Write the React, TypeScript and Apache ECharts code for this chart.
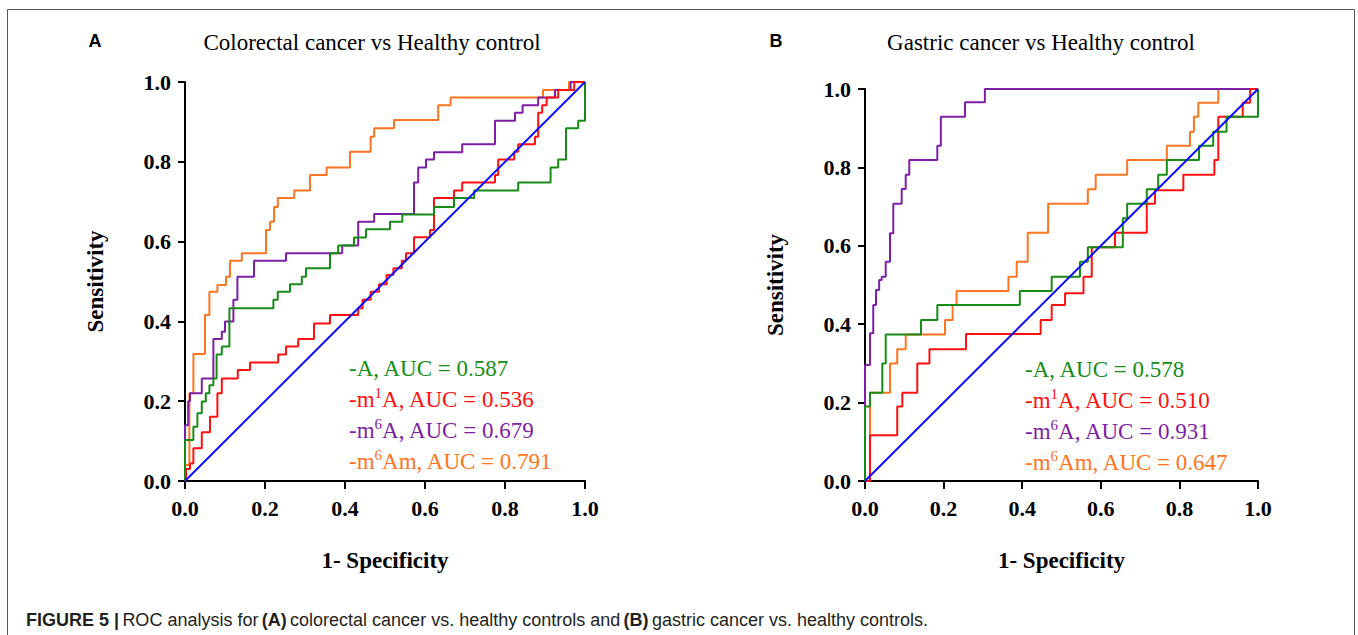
import React, { useEffect, useRef } from "react";
import * as echarts from "echarts";

// ROC operating points [1 - specificity, sensitivity]; drawn as step lines
const crcA: number[][] = [[0,0],[0,0.103],[0.021,0.136],[0.031,0.17],[0.042,0.199],[0.052,0.22],[0.061,0.24],[0.071,0.257],[0.079,0.317],[0.092,0.337],[0.111,0.433],[0.221,0.454],[0.232,0.474],[0.2625,0.493],[0.292,0.512],[0.3025,0.533],[0.3625,0.571],[0.383,0.59],[0.4225,0.61],[0.4525,0.631],[0.5125,0.65],[0.5433,0.668],[0.6225,0.687],[0.6725,0.709],[0.723,0.728],[0.833,0.748],[0.914,0.786],[0.933,0.806],[0.9525,0.884],[0.983,0.903],[1,1]];
const crcM1A: number[][] = [[0,0],[0.0025,0.03],[0.0125,0.044],[0.021,0.082],[0.042,0.122],[0.0625,0.161],[0.081,0.22],[0.092,0.257],[0.132,0.278],[0.1625,0.297],[0.233,0.317],[0.2525,0.337],[0.283,0.356],[0.3225,0.395],[0.3625,0.416],[0.433,0.433],[0.444,0.454],[0.464,0.474],[0.485,0.493],[0.504,0.516],[0.521,0.533],[0.542,0.552],[0.5525,0.571],[0.5725,0.611],[0.6125,0.629],[0.6225,0.709],[0.6725,0.728],[0.693,0.748],[0.775,0.767],[0.783,0.806],[0.823,0.825],[0.833,0.844],[0.875,0.863],[0.883,0.923],[0.893,0.942],[0.904,0.961],[0.933,0.98],[0.973,1],[1,1]];
const crcM6A: number[][] = [[0,0],[0,0.14],[0.008,0.2],[0.0125,0.22],[0.042,0.257],[0.071,0.356],[0.092,0.374],[0.1,0.4],[0.121,0.454],[0.131,0.512],[0.1725,0.552],[0.2525,0.571],[0.393,0.59],[0.433,0.65],[0.473,0.669],[0.5725,0.748],[0.583,0.786],[0.6025,0.806],[0.6225,0.824],[0.693,0.844],[0.775,0.903],[0.825,0.923],[0.844,0.942],[0.883,0.961],[0.925,0.98],[0.964,1],[1,1]];
const crcM6Am: number[][] = [[0,0],[0,0.04],[0.011,0.22],[0.021,0.318],[0.05,0.416],[0.061,0.474],[0.081,0.491],[0.1025,0.512],[0.1125,0.552],[0.142,0.571],[0.2025,0.629],[0.2125,0.65],[0.2225,0.687],[0.232,0.709],[0.273,0.728],[0.3125,0.767],[0.354,0.786],[0.4125,0.825],[0.464,0.863],[0.473,0.884],[0.5225,0.905],[0.633,0.942],[0.664,0.961],[0.895,0.98],[0.96,1],[1,1]];

const gcA: number[][] = [[0,0],[0,0.19],[0.0127,0.225],[0.044,0.3],[0.0527,0.374],[0.1425,0.411],[0.184,0.449],[0.394,0.485],[0.475,0.521],[0.547,0.559],[0.567,0.596],[0.656,0.67],[0.667,0.707],[0.717,0.744],[0.746,0.781],[0.768,0.819],[0.85,0.855],[0.886,0.891],[0.92,0.929],[1,1]];
const gcM1A: number[][] = [[0,0],[0.0127,0.117],[0.082,0.19],[0.095,0.225],[0.133,0.3],[0.164,0.336],[0.257,0.375],[0.447,0.411],[0.475,0.449],[0.509,0.479],[0.556,0.521],[0.577,0.596],[0.636,0.633],[0.717,0.707],[0.738,0.742],[0.81,0.781],[0.889,0.819],[0.899,0.929],[0.961,0.965],[0.98,1],[1,1]];
const gcM6A: number[][] = [[0,0],[0,0.296],[0.0127,0.377],[0.021,0.449],[0.028,0.487],[0.036,0.513],[0.0425,0.521],[0.0527,0.559],[0.0636,0.632],[0.072,0.707],[0.0934,0.745],[0.1036,0.781],[0.1127,0.819],[0.184,0.855],[0.193,0.929],[0.2545,0.966],[0.305,1],[1,1]];
const gcM6Am: number[][] = [[0,0],[0.0127,0.225],[0.0636,0.3],[0.082,0.336],[0.1036,0.374],[0.2036,0.411],[0.223,0.449],[0.233,0.485],[0.365,0.521],[0.386,0.559],[0.414,0.633],[0.466,0.707],[0.567,0.744],[0.587,0.781],[0.667,0.819],[0.768,0.855],[0.827,0.891],[0.837,0.929],[0.848,0.965],[0.899,1],[1,1]];

const reference: number[][] = [[0,0],[1,1]];

const panelTitles = ["Colorectal cancer vs Healthy control", "Gastric cancer vs Healthy control"];
const panelLetters = ["A", "B"];
const aucA = ["0.587", "0.536", "0.679", "0.791"];
const aucB = ["0.578", "0.510", "0.931", "0.647"];
const markerNames = [["", "A"], ["1", "A"], ["6", "A"], ["6", "Am"]];
const caption = "ROC analysis for";

const COLORS = { A: "#168c16", m1A: "#ff1010", m6A: "#7d1ea6", m6Am: "#ff7420", ref: "#0a0aff" };
const legendColors = [COLORS.A, COLORS.m1A, COLORS.m6A, COLORS.m6Am];

const SERIF = "'Liberation Serif', 'Times New Roman', serif";
const SANS = "'Liberation Sans', Arial, sans-serif";

export default function App() {
  const ref = useRef<HTMLDivElement>(null);
  useEffect(() => {
    document.body.style.margin = "0";
    const chart = echarts.init(ref.current!, null, { renderer: "svg" });

    const grids = [
      { left: 185, top: 82, width: 400, height: 399 },
      { left: 865, top: 89, width: 393, height: 392 },
    ];

    const axisLabel = {
      fontFamily: SERIF, fontWeight: "bold", fontSize: 22, color: "#000",
      formatter: (v: number) => v.toFixed(1),
    };
    const xAxes = grids.map((_, i) => ({
      type: "value", gridIndex: i, min: 0, max: 1, interval: 0.2,
      name: "1- Specificity", nameLocation: "middle", nameGap: 68,
      nameTextStyle: { fontFamily: SERIF, fontWeight: "bold", fontSize: 23, color: "#000" },
      axisLine: { show: true, onZero: false, lineStyle: { color: "#000", width: 2 } },
      axisTick: { show: true, length: 8, lineStyle: { color: "#000", width: 2 } },
      axisLabel: { ...axisLabel, margin: 16 },
      splitLine: { show: false },
    }));
    const yAxes = grids.map((_, i) => ({
      type: "value", gridIndex: i, min: 0, max: 1, interval: 0.2,
      name: "Sensitivity", nameLocation: "middle", nameGap: 78,
      nameTextStyle: { fontFamily: SERIF, fontWeight: "bold", fontSize: 23, color: "#000" },
      axisLine: { show: true, onZero: false, lineStyle: { color: "#000", width: 2 } },
      axisTick: { show: true, length: 7, lineStyle: { color: "#000", width: 2 } },
      axisLabel: { ...axisLabel, margin: 14 },
      splitLine: { show: false },
    }));

    const mk = (data: number[][], color: string, idx: number, step: boolean) => ({
      type: "line", xAxisIndex: idx, yAxisIndex: idx, data,
      step: step ? "end" : false, showSymbol: false, symbol: "none",
      lineStyle: { color, width: 2 }, silent: true,
    });

    const series = [
      mk(crcM6Am, COLORS.m6Am, 0, true), mk(crcM6A, COLORS.m6A, 0, true),
      mk(crcM1A, COLORS.m1A, 0, true), mk(crcA, COLORS.A, 0, true),
      mk(reference, COLORS.ref, 0, false),
      mk(gcM6Am, COLORS.m6Am, 1, true), mk(gcM6A, COLORS.m6A, 1, true),
      mk(gcM1A, COLORS.m1A, 1, true), mk(gcA, COLORS.A, 1, true),
      mk(reference, COLORS.ref, 1, false),
    ];

    const legendTexts = (aucs: string[], x: number, y0: number) =>
      aucs.map((auc, i) => {
        const [sup, base] = markerNames[i];
        const c = legendColors[i];
        const text = sup
          ? `{n|-m}{s|${sup}}{n|${base}, AUC = ${auc}}`
          : `{n|-${base}, AUC = ${auc}}`;
        return {
          type: "text", left: x, top: y0 + i * 31 + (sup ? 0 : 3),
          style: {
            text,
            rich: {
              n: { fontFamily: SERIF, fontSize: 23, fill: c, lineHeight: 26, verticalAlign: "bottom" },
              s: { fontFamily: SERIF, fontSize: 15, fill: c, lineHeight: 26, verticalAlign: "top" },
            },
          },
        };
      });

    const graphic: any[] = [
      { type: "rect", shape: { x: 7.5, y: 9.5, width: 1347, height: 700 }, style: { fill: "none", stroke: "#555", lineWidth: 1 } },
      { type: "text", x: 95, y: 41, style: { text: panelLetters[0], font: `bold 18px ${SANS}`, fill: "#000", align: "center", verticalAlign: "middle" } },
      { type: "text", x: 776, y: 41, style: { text: panelLetters[1], font: `bold 18px ${SANS}`, fill: "#000", align: "center", verticalAlign: "middle" } },
      { type: "text", x: 372, y: 42, style: { text: panelTitles[0], font: `23px ${SERIF}`, fill: "#000", align: "center", verticalAlign: "middle" } },
      { type: "text", x: 1041, y: 42, style: { text: panelTitles[1], font: `23px ${SERIF}`, fill: "#000", align: "center", verticalAlign: "middle" } },
      ...legendTexts(aucA, 349, 354),
      ...legendTexts(aucB, 1025, 355),
      {
        type: "text", left: 26, top: 611,
        style: {
          text: `{b|FIGURE 5 |} {r|${caption}} {b|(A)} {r|colorectal cancer vs. healthy controls and} {b|(B)} {r|gastric cancer vs. healthy controls.}`,
          rich: {
            b: { fontFamily: SANS, fontWeight: "bold", fontSize: 18, fill: "#231f20" },
            r: { fontFamily: SANS, fontSize: 18, fill: "#231f20" },
          },
        },
      },
    ];

    chart.setOption({
      animation: false,
      backgroundColor: "#fff",
      grid: grids,
      xAxis: xAxes,
      yAxis: yAxes,
      series,
      graphic,
    });
    return () => chart.dispose();
  }, []);
  return <div ref={ref} style={{ width: 1358, height: 635 }} />;
}
